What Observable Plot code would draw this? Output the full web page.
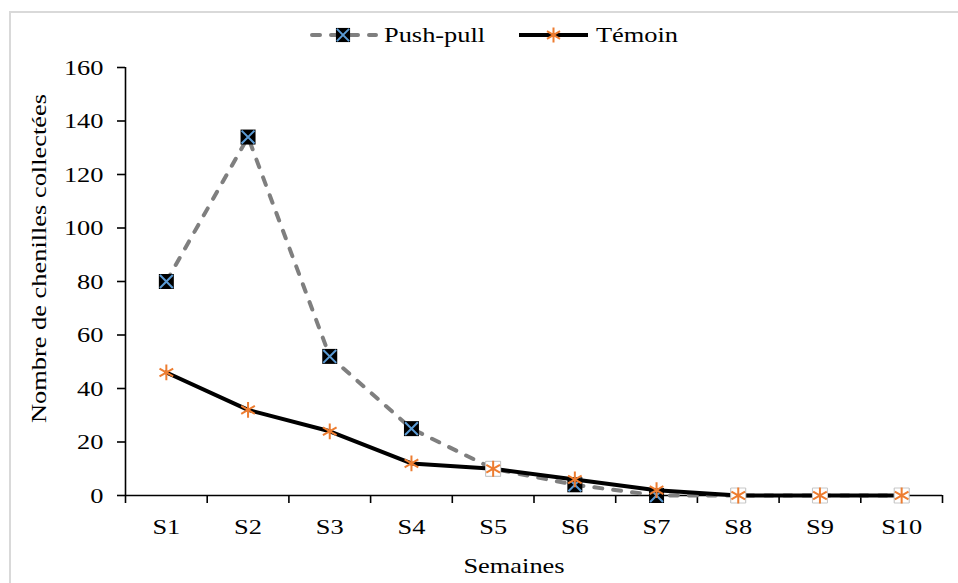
<!DOCTYPE html>
<html>
<head>
<meta charset="utf-8">
<script src="https://cdn.jsdelivr.net/npm/d3@7"></script>
<script src="https://cdn.jsdelivr.net/npm/@observablehq/plot@0.6"></script>
<style>
  html, body { margin: 0; padding: 0; background: #fff; }
  #wrap { position: relative; width: 958px; height: 583px; overflow: hidden; background: #fff; font-family: "Liberation Serif", serif; }
  #frame { position: absolute; left: 9px; top: 11px; width: 1200px; height: 1200px; border: 2px solid #d9d9d9; box-sizing: border-box; }
  #legend { position: absolute; left: 0; top: 0; }
  #chart { position: absolute; left: 0; top: 55px; }
</style>
</head>
<body>
<div id="wrap">
  <div id="frame"></div>
  <svg id="legend" width="958" height="55"></svg>
  <div id="chart"></div>
</div>
<script>
const weeks = ["S1", "S2", "S3", "S4", "S5", "S6", "S7", "S8", "S9", "S10"];
const pushPull = [80, 134, 52, 25, 10, 4, 0, 0, 0, 0];
const temoin = [46, 32, 24, 12, 10, 6, 2, 0, 0, 0];
const yTicks = [0, 20, 40, 60, 80, 100, 120, 140, 160];
const seriesNames = ["Push-pull", "Témoin"];
const xTitle = "Semaines";
const yTitle = "Nombre de chenilles collectées";

const GRAY = "#7f7f7f", BLUE = "#5b9bd5", ORANGE = "#ed7d31";
const STRETCH = 1.2;
const FS = 22;

const rows = weeks.map((w, i) => ({idx: i + 1, week: w, pp: pushPull[i], t: temoin[i]}));
const rSquare = Math.sqrt(225 / Math.PI);
const rTimes = Math.sqrt(110 / Math.PI);
const rStar = Math.sqrt(175 / Math.PI);

const chart = Plot.plot({
  width: 958,
  height: 528,
  marginTop: 12,
  marginBottom: 88,
  marginLeft: 125,
  marginRight: 16,
  style: {fontFamily: "Liberation Serif", fontSize: FS + "px", color: "black", background: "transparent", overflow: "visible"},
  x: {type: "linear", domain: [0.5, 10.5]},
  y: {domain: [0, 160]},
  marks: [
    Plot.axisY({ticks: yTicks, tickSize: 8, tickPadding: 14, strokeWidth: 1.6, label: null, tickFormat: d => String(d)}),
    Plot.axisX({ticks: d3.range(1, weeks.length + 1), tickSize: 0, tickPadding: 23, tickFormat: i => weeks[i - 1], label: null}),
    Plot.axisX({ticks: d3.range(0.5, weeks.length + 1, 1), tickSize: 8, strokeWidth: 1.6, tickFormat: () => "", label: null}),
    Plot.ruleY([0], {stroke: "black", strokeWidth: 1.6}),
    Plot.ruleX([0.5], {stroke: "black", strokeWidth: 1.6}),
    Plot.line(rows, {x: "idx", y: "pp", stroke: GRAY, strokeWidth: 4, strokeDasharray: "8,11", strokeLinecap: "round"}),
    Plot.dot(rows, {x: "idx", y: "pp", symbol: "square", fill: "black", stroke: "none", r: rSquare}),
    Plot.dot(rows, {x: "idx", y: "pp", symbol: "times", stroke: BLUE, strokeWidth: 2, r: rTimes}),
    Plot.line(rows, {x: "idx", y: "t", stroke: "black", strokeWidth: 4}),
    Plot.dot(rows.filter(d => d.pp === d.t), {x: "idx", y: "t", symbol: "square", fill: "white", stroke: "#c8c8c8", strokeWidth: 1, r: rSquare}),
    Plot.dot(rows, {x: "idx", y: "t", symbol: "asterisk", stroke: ORANGE, strokeWidth: 2, r: rStar}),
    Plot.text([xTitle], {frameAnchor: "bottom", dx: -20, dy: 70, lineAnchor: "middle", textAnchor: "middle", fontSize: FS}),
    Plot.text([yTitle], {frameAnchor: "left", rotate: -90, dx: -87, dy: -23, lineAnchor: "middle", textAnchor: "middle", fontSize: FS})
  ]
});
document.getElementById("chart").appendChild(chart);

// widen glyphs along the text direction to match the original lettering
function stretch(svg) {
  svg.querySelectorAll("text").forEach(t => {
    if (!t.textContent) return;
    const xa = t.getAttribute("x");
    let x = 0;
    if (xa !== null && !/em/.test(xa)) { x = parseFloat(xa) || 0; t.removeAttribute("x"); }
    const tr = t.getAttribute("transform") || "";
    t.setAttribute("transform", `${tr} translate(${x},0) scale(${STRETCH},1)`);
  });
}
stretch(chart);

// legend
const leg = d3.select("#legend");
const cy = 35;
function legendItem(x0, x1, name, lineStyle, marker) {
  const g = leg.append("g");
  const line = g.append("line").attr("x1", x0).attr("x2", x1).attr("y1", cy).attr("y2", cy)
    .attr("stroke-width", 4);
  lineStyle(line);
  marker(g, (x0 + x1) / 2);
  g.append("text").attr("x", x1 + 8).attr("y", cy).attr("dy", "0.34em")
    .attr("font-family", "Liberation Serif").attr("font-size", FS).attr("fill", "black").text(name);
}
legendItem(310, 376, seriesNames[0],
  l => l.attr("stroke", GRAY).attr("stroke-dasharray", "8,11").attr("stroke-linecap", "round").attr("stroke-dashoffset", -2),
  (g, x) => {
    g.append("path").attr("transform", `translate(${x},${cy})`).attr("d", d3.symbol(d3.symbolSquare, 200)()).attr("fill", "black");
    g.append("path").attr("transform", `translate(${x},${cy})`).attr("d", d3.symbol(d3.symbolTimes, 100)()).attr("fill", "none").attr("stroke", BLUE).attr("stroke-width", 2);
  });
legendItem(519, 588, seriesNames[1],
  l => l.attr("stroke", "black"),
  (g, x) => {
    g.append("path").attr("transform", `translate(${x},${cy})`).attr("d", d3.symbol(d3.symbolAsterisk, 160)()).attr("fill", "none").attr("stroke", ORANGE).attr("stroke-width", 2);
  });
stretch(document.getElementById("legend"));
</script>
</body>
</html>
